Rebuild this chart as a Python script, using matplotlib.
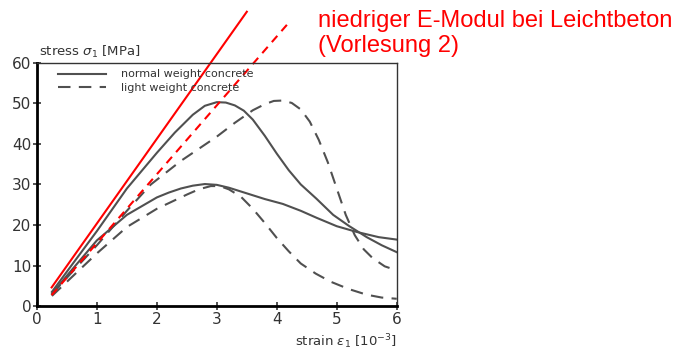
import matplotlib.pyplot as plt

# values (strain in 1e-3, stress in MPa)
nh_x = [0.25, 0.5, 1.0, 1.5, 2.0, 2.3, 2.6, 2.8, 3.0, 3.15, 3.3, 3.45, 3.6, 3.8, 4.0,
        4.2, 4.4, 4.66, 4.94, 5.2, 5.5, 5.75, 6.0]
nh_y = [3.5, 8.5, 18.5, 29.0, 37.8, 42.8, 47.2, 49.4, 50.3, 50.2, 49.5, 48.2, 46.0, 42.0, 37.6,
        33.5, 30.0, 26.5, 22.5, 19.8, 17.0, 15.0, 13.3]

nl_x = [0.25, 0.5, 1.0, 1.5, 2.0, 2.2, 2.4, 2.6, 2.8, 3.0, 3.2, 3.5, 3.8, 4.1, 4.4, 4.66,
        5.0, 5.33, 5.7, 6.0]
nl_y = [3.0, 7.5, 16.2, 22.5, 26.8, 28.0, 29.0, 29.7, 30.1, 29.9, 29.2, 27.8, 26.4, 25.2, 23.5, 21.8,
        19.7, 18.3, 17.0, 16.4]

lh_x = [0.25, 0.5, 1.0, 1.5, 1.9, 2.4, 3.0, 3.3, 3.6, 3.8, 3.95, 4.1, 4.25, 4.4, 4.55, 4.7,
        4.85, 5.0, 5.15, 5.3, 5.45, 5.6, 5.8, 6.0]
lh_y = [3.0, 7.0, 15.0, 23.5, 30.0, 35.8, 41.8, 45.2, 48.3, 49.8, 50.6, 50.7, 50.1, 48.5, 45.5, 41.0,
        35.5, 29.0, 22.5, 17.5, 14.0, 11.8, 9.8, 8.8]

ll_x = [0.25, 0.5, 1.0, 1.5, 2.0, 2.5, 2.7, 2.9, 3.05, 3.2, 3.4, 3.6, 3.8, 4.0, 4.2, 4.4,
        4.65, 4.9, 5.2, 5.5, 5.75, 6.0]
ll_y = [2.5, 6.0, 13.0, 19.5, 24.0, 27.5, 28.8, 29.6, 29.6, 28.8, 27.0, 24.0, 20.5, 16.8, 13.5, 10.5,
        8.0, 6.0, 4.2, 2.8, 2.1, 1.8]

# E-modulus lines added in red
e_normal_x = [0.245, 3.5]
e_normal_y = [4.6, 72.6]
e_light_x = [0.245, 4.17]
e_light_y = [2.7, 69.4]

grey = "#505050"

fig = plt.figure(figsize=(6.84, 3.51), dpi=100)
ax = fig.add_axes([0.054, 0.128, 0.526, 0.693])

ax.plot(nh_x, nh_y, color=grey, lw=1.5, label="normal weight concrete")
ax.plot(lh_x, lh_y, color=grey, lw=1.5, ls=(0, (6, 4)), label="light weight concrete")
ax.plot(nl_x, nl_y, color=grey, lw=1.5)
ax.plot(ll_x, ll_y, color=grey, lw=1.5, ls=(0, (6, 4)))

ax.plot(e_normal_x, e_normal_y, color="red", lw=1.5, clip_on=False)
ax.plot(e_light_x, e_light_y, color="red", lw=1.5, ls=(0, (4, 3)), clip_on=False)

ax.set_xlim(0, 6)
ax.set_ylim(0, 60)
ax.set_xticks(range(0, 7))
ax.set_yticks(range(0, 61, 10))
ax.tick_params(direction="inout", length=6, width=1.2, colors="#333333",
               labelsize=11, pad=1)
for s in ["left", "bottom"]:
    ax.spines[s].set_linewidth(2)
for s in ["top", "right"]:
    ax.spines[s].set_linewidth(1)
    ax.spines[s].set_color("#333333")

leg = ax.legend(loc="upper left", bbox_to_anchor=(0.04, 1.0), frameon=False, fontsize=8,
                handlelength=4.3, handletextpad=1.4, borderaxespad=0.2, labelspacing=0.35,
                labelcolor="#333333")

fig.text(0.057, 0.84, "stress $\\sigma_1$ [MPa]", fontsize=9.5, color="#333333")
fig.text(0.58, 0.015, "strain $\\varepsilon_1$ [10$^{-3}$]", fontsize=9.5, color="#333333", ha="right")

fig.text(0.465, 0.94, "niedriger E-Modul bei Leichtbeton", fontsize=17, color="red",
         family="Liberation Sans", va="center")
fig.text(0.465, 0.868, "(Vorlesung 2)", fontsize=17, color="red",
         family="Liberation Sans", va="center")

fig.savefig("out.png", dpi=100)
